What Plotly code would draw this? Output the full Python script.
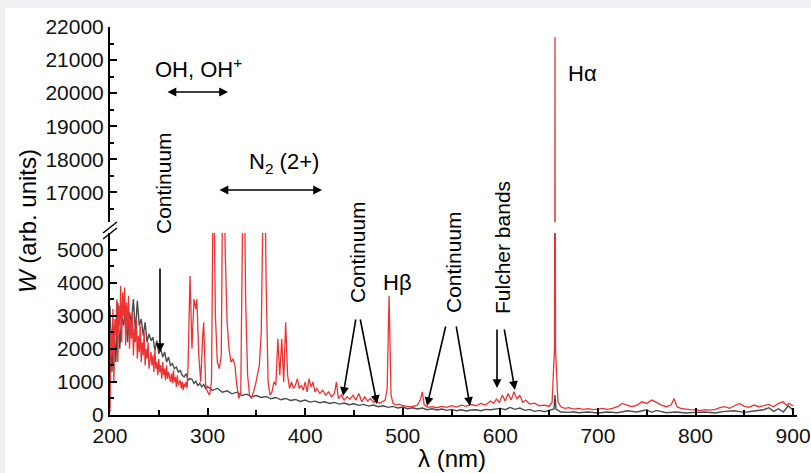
import plotly.graph_objects as go

# ---------------- data ----------------
gray_x = [200, 202, 204, 206, 208, 210, 212, 214, 216, 218, 220, 222, 224, 226, 228, 230, 232, 234, 236, 238,
          240, 242, 244, 246, 248, 250, 252, 254, 256, 258, 260, 262, 264, 266, 268, 270, 272, 274, 276, 278,
          280, 282, 284, 286, 288, 290, 292, 294, 296, 298, 300,
          305, 310, 315, 320, 325, 330, 335, 340, 345, 350, 355, 360, 365, 370, 375, 380, 385, 390, 395, 400,
          405, 410, 415, 420, 425, 430, 435, 440, 445, 450, 455, 460, 465, 470, 475, 480, 485, 490, 495, 500,
          505, 510, 515, 520, 525, 530, 535, 540, 545, 550, 555, 560, 565, 570, 575, 580, 585, 590, 595, 600,
          605, 610, 615, 620, 625, 630, 635, 640, 645, 650, 655, 656, 657, 662, 670, 675, 680, 690, 700,
          710, 720, 730, 740, 750, 755, 760, 770, 780, 790, 800, 810, 820, 830, 840, 850, 860, 870, 875,
          880, 885, 890, 895, 900]
gray_y = [3300, 1300, 2700, 1600, 3400, 2000, 3000, 2700, 3300, 2200, 3100, 2800, 3500, 2500, 3450, 2700, 2900,
          2400, 2800, 2200, 2450, 2250, 2350, 1950, 2250, 1850, 2000, 1750, 1900, 1600, 1750, 1500, 1550, 1400,
          1450, 1300, 1350, 1200, 1150, 1250, 1050, 1100, 1080, 950, 1020, 880, 960, 850, 920, 800, 860,
          740, 810, 690, 730, 640, 690, 590, 630, 550, 590, 530, 560, 490, 530, 460, 500, 440, 470, 410, 450,
          390, 420, 370, 400, 350, 380, 330, 360, 310, 340, 290, 320, 270, 300, 250, 280, 230, 260, 210, 240,
          190, 220, 180, 210, 160, 190, 150, 180, 140, 170, 130, 160, 120, 150, 160, 130, 170, 160, 190, 200,
          160, 230, 170, 210, 140, 170, 110, 140, 100, 130, 180, 600, 180, 90, 80, 100, 70, 90, 60,
          90, 70, 130, 90, 160, 80, 140, 70, 90, 60, 80, 90, 60, 110, 130, 80, 120, 160, 220,
          110, 190, 90, 280, 140]

red_x = [200, 201, 202, 203, 204, 205, 206, 207, 208, 209, 210, 211, 212, 213, 214, 215, 216, 217, 218, 219,
         220, 221, 222, 223, 224, 225, 226, 227, 228, 229, 230, 231, 232, 233, 234, 235, 236, 237, 238, 239,
         240, 242, 243, 244, 245, 246, 247, 248, 249, 250, 251, 252, 253, 254, 255, 256, 257, 258, 259, 260,
         262, 263, 264, 265, 266, 267, 268, 269, 270, 272, 273, 274, 275, 276, 277, 278, 279,
         280, 282, 284, 286, 288, 289, 291, 293, 295, 296, 298, 300, 302, 304, 306, 308, 310, 312, 314,
         316, 318, 320, 322, 324, 326, 328, 330, 332, 334, 337, 339, 341, 343, 345, 347, 349, 351, 353, 355,
         358, 360, 362, 364, 366, 368, 370, 372, 374, 376, 378, 380, 382, 384, 386, 388, 390, 392, 394, 396,
         398, 400, 402, 404, 406, 408, 410, 412, 415, 418, 421, 424, 427, 430, 432, 434, 437, 440, 443, 446,
         449, 452, 455, 458, 461, 464, 467, 470, 473, 476, 479, 482, 484, 486, 488, 490, 493, 496, 500, 505,
         510, 515, 518, 520, 522, 526, 530, 535, 540, 545, 550, 555, 560, 565, 570, 575, 580, 585, 590, 593,
         596, 599, 602, 605, 608, 611, 614, 617, 620, 623, 626, 630, 635, 640, 645, 650, 653, 655.5, 656, 656.5,
         659, 662, 666, 670, 675, 680, 685, 690, 695, 700, 705, 710, 715, 720, 725, 730, 735, 740, 745, 750,
         755, 760, 765, 770, 775, 778, 781, 785, 790, 795, 800, 805, 810, 815, 820, 825, 830, 835, 840, 845,
         850, 855, 860, 865, 870, 875, 880, 885, 890, 893, 896, 900]
red_y = [100, 2600, 1800, 3200, 1000, 2900, 2400, 3500, 1600, 3300, 2700, 3900, 2200, 3700, 3000, 3850, 2100,
         3400, 2600, 3600, 2000, 2900, 2300, 3100, 1800, 2600, 2200, 2900, 1700, 2400, 1900, 2700, 1600, 2200,
         1800, 2500, 1500, 2000, 1700, 2200, 1400, 1900, 1500, 1800, 1300, 2000, 1400, 1600, 1200, 1700, 1300,
         1500, 1100, 1600, 1200, 1400, 1050, 1500, 1100, 1300, 1000, 1250, 950, 1350, 1000, 1150, 850, 1200,
         900, 1050, 800, 1000, 750, 950, 850, 1000, 800,
         1500, 4200, 2000, 3500, 3200, 3500, 1800, 1000, 2400, 2800, 900,
         700, 600, 1000, 8000, 3000, 1600, 1400, 1800, 9000, 5000, 2800, 2000, 1600, 1700, 1500, 900, 500, 700,
         9000, 3500, 1200, 600, 500, 700, 900, 1200, 1500, 2500, 9000, 4000, 1000, 600, 700, 1000, 900, 2300,
         1200, 2300, 1000, 2800, 1200, 800, 1000, 800, 900, 1100, 800, 900, 750, 1000, 700, 1100, 850, 1000,
         700, 800, 650, 750, 600, 700, 550, 650, 1000, 500, 600, 450, 550, 480, 600, 450, 650, 400, 550, 420,
         500, 380, 420, 350, 400, 450, 800, 3600, 600, 350, 300, 330, 280, 260, 250, 300, 450, 700, 300, 230,
         250, 220, 260, 230, 280, 240, 300, 260, 320, 280, 350, 300, 420, 350, 480, 380, 600, 420, 650, 450,
         700, 480, 600, 380, 450, 330, 360, 280, 300, 260, 380, 2000, 21700, 2000, 400, 250, 200, 220, 180,
         200, 170, 190, 160, 180, 200, 170, 200, 250, 350, 300, 250, 300, 400, 350, 450, 380, 300, 250, 300,
         500, 250, 200, 180, 160, 150, 140, 160, 150, 170, 220, 250, 200, 280, 350, 260, 230, 300, 250, 280,
         320, 250, 350, 400, 300, 350, 280]

x_ticks = [200, 300, 400, 500, 600, 700, 800, 900]
y_low_ticks = [0, 1000, 2000, 3000, 4000, 5000]
y_up_ticks = [17000, 18000, 19000, 20000, 21000, 22000]

# ---------------- layout helpers (pixel -> paper) ----------------
W, H = 811, 473
L, R, T, B = 110, 797, 27, 415


def px(x):
    return (x - L) / (R - L)


def py(y):
    return (B - y) / (B - T)


RED = "#ee3232"
GRAY = "#4b4b4b"
FONT = "Liberation Sans, Arial, sans-serif"

fig = go.Figure()
fig.add_trace(go.Scatter(x=gray_x, y=gray_y, mode="lines", line=dict(color=GRAY, width=1.4),
                         xaxis="x", yaxis="y", showlegend=False))
for ya in ("y", "y2"):
    fig.add_trace(go.Scatter(x=red_x, y=red_y, mode="lines",
                             line=dict(color=RED, width=1.3, simplify=False),
                             xaxis="x", yaxis=ya, showlegend=False))

axis_common = dict(showline=True, linecolor="black", linewidth=2, ticks="inside", tickwidth=1.5,
                   ticklen=7, tickcolor="black", showgrid=False, zeroline=False, automargin=False,
                   tickfont=dict(family=FONT, size=21, color="#111111"))

fig.update_layout(
    template="none",
    width=W, height=H,
    margin=dict(l=L, r=W - R, t=T, b=H - B, autoexpand=False),
    paper_bgcolor="white", plot_bgcolor="white",
    showlegend=False,
    xaxis=dict(range=[200, 904], tickvals=x_ticks, ticktext=[str(v) for v in x_ticks], anchor="y",
               ticklabelstandoff=1,
               minor=dict(ticks="inside", dtick=50, tick0=200, ticklen=5, tickwidth=1.5, tickcolor="black"),
               **axis_common),
    yaxis=dict(domain=[0, (B - 233) / (B - T)], range=[0, 5500], tickvals=y_low_ticks,
               ticktext=[str(v) for v in y_low_ticks], anchor="x",
               minor=dict(ticks="inside", dtick=500, tick0=0, ticklen=4, tickwidth=1.5, tickcolor="black"),
               **axis_common),
    yaxis2=dict(domain=[(B - 222) / (B - T), 1], range=[16100, 22000], tickvals=y_up_ticks,
                ticktext=[str(v) for v in y_up_ticks], anchor="x",
                minor=dict(ticks="inside", dtick=500, tick0=16500, ticklen=4, tickwidth=1.5, tickcolor="black"),
                **axis_common),
)

shapes = []
# gray frame strips of the original image
shapes.append(dict(type="rect", xref="paper", yref="paper", x0=px(0), x1=px(W), y0=py(8), y1=py(0),
                   fillcolor="#eef0f2", line=dict(width=0), layer="below"))
shapes.append(dict(type="rect", xref="paper", yref="paper", x0=px(0), x1=px(5), y0=py(H), y1=py(0),
                   fillcolor="#eef0f2", line=dict(width=0), layer="below"))
# axis break marks
for dy in (0, 6):
    shapes.append(dict(type="line", xref="paper", yref="paper", x0=px(103), y0=py(233 + dy),
                       x1=px(117), y1=py(222 + dy), line=dict(color="black", width=1.5)))
fig.update_layout(shapes=shapes)

ann = []


def text(t, x, y, angle=0, size=22):
    ann.append(dict(text=t, x=px(x), y=py(y), xref="paper", yref="paper", showarrow=False,
                    textangle=angle, xanchor="center", yanchor="middle",
                    font=dict(family=FONT, size=size, color="black")))


def arrow(x0, y0, x1, y1, both=False):
    ann.append(dict(text="", x=px(x1), y=py(y1), xref="paper", yref="paper", showarrow=True,
                    ax=x0 - x1, ay=y0 - y1, axref="pixel", ayref="pixel",
                    arrowhead=2, arrowsize=1.1, arrowwidth=1.6, arrowcolor="black",
                    arrowside="end+start" if both else "end", standoff=0, startstandoff=0))


text("OH, OH<sup>+</sup>", 198, 68)
arrow(166, 92, 228, 92, both=True)
text("N<sub>2</sub> (2+)", 284, 163)
arrow(218, 190, 322, 190, both=True)
text("Continuum", 163, 183, angle=-90, size=21)
arrow(160, 267, 160, 352)
text("Continuum", 358, 252, angle=-90, size=21)
arrow(356, 318, 343, 396)
arrow(360, 318, 377, 404)
text("Hβ", 397, 282)
text("Continuum", 453, 262, angle=-90, size=21)
arrow(446, 325, 427, 406)
arrow(456, 325, 470, 406)
text("Fulcher bands", 502, 248, angle=-90, size=21)
arrow(497, 328, 497, 388)
arrow(504, 328, 515, 390)
text("Hα", 582, 73)
text("<i>W</i> (arb. units)", 27, 221, angle=-90, size=24)
text("λ (nm)", 452, 458, size=24)
fig.update_layout(annotations=ann)

fig.write_html("out.html")
